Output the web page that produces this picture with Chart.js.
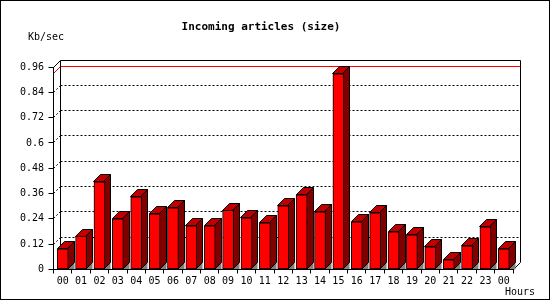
<!DOCTYPE html>
<html>
<head>
<meta charset="utf-8">
<script src="https://cdn.jsdelivr.net/npm/chart.js@4.4.1/dist/chart.umd.min.js"></script>
<style>
  html, body { margin: 0; padding: 0; background: #ffffff; }
  canvas { display: block; }
</style>
</head>
<body>
<canvas id="chart" width="550" height="300"></canvas>
<script>
// ---- data ----
const hourLabels = ['00','01','02','03','04','05','06','07','08','09','10','11',
                    '12','13','14','15','16','17','18','19','20','21','22','23','00'];
const sizeKbSec = [0.098, 0.158, 0.416, 0.240, 0.345, 0.264, 0.292, 0.207, 0.207, 0.280,
                   0.245, 0.221, 0.302, 0.354, 0.273, 0.928, 0.226, 0.269, 0.179, 0.164,
                   0.107, 0.046, 0.112, 0.202, 0.098];
const yTickValues = [0, 0.12, 0.24, 0.36, 0.48, 0.6, 0.72, 0.84, 0.96];
const yTickLabels = ['0', '0.12', '0.24', '0.36', '0.48', '0.6', '0.72', '0.84', '0.96'];
const chartTitle = 'Incoming articles (size)';
const yUnitLabel = 'Kb/sec';
const xUnitLabel = 'Hours';

// ---- styling ----
const DEPTH = 7;
const MONO = '"DejaVu Sans Mono", "Liberation Mono", monospace';
const FRONT = '#ff0000', SIDE = '#800000', TOP = '#c00000', FLOOR = '#808080';

function px(v) { return Math.round(v - 0.5) + 0.5; }

const threeD = {
  id: 'threeD',
  beforeDraw(chart) {
    const ctx = chart.ctx;
    ctx.save();
    ctx.fillStyle = '#ffffff';
    ctx.fillRect(0, 0, chart.width, chart.height);
    ctx.restore();
  },
  beforeDatasetsDraw(chart) {
    const { ctx, chartArea: a, scales: { y } } = chart;
    const L = px(a.left), R = px(a.right), T = px(a.top), B = px(a.bottom);
    ctx.save();
    ctx.lineWidth = 1;
    // dotted grid lines on the back wall and left side wall
    ctx.strokeStyle = '#000000';
    ctx.setLineDash([2, 2]);
    yTickValues.forEach(v => {
      if (v === yTickValues[0] || v === yTickValues[yTickValues.length - 1]) return;
      const yf = px(y.getPixelForValue(v));
      const yb = yf - DEPTH;
      ctx.beginPath();
      ctx.moveTo(L + DEPTH, yb);
      ctx.lineTo(R + DEPTH, yb);
      ctx.stroke();
      ctx.beginPath();
      ctx.moveTo(L, yf);
      ctx.lineTo(L + DEPTH, yb);
      ctx.stroke();
    });
    ctx.setLineDash([]);
    // maximum value line (red)
    const maxV = Math.max(...sizeKbSec);
    const ym = px(y.getPixelForValue(maxV));
    ctx.strokeStyle = '#ff0000';
    ctx.beginPath();
    ctx.moveTo(L, ym);
    ctx.lineTo(L + DEPTH, ym - DEPTH);
    ctx.lineTo(R + DEPTH, ym - DEPTH);
    ctx.stroke();
    // back wall frame
    ctx.strokeStyle = '#000000';
    ctx.beginPath();
    ctx.moveTo(L, T);
    ctx.lineTo(L + DEPTH, T - DEPTH);
    ctx.lineTo(R + DEPTH, T - DEPTH);
    ctx.lineTo(R + DEPTH, B - DEPTH);
    ctx.lineTo(R, B);
    ctx.moveTo(L + DEPTH, T - DEPTH);
    ctx.lineTo(L + DEPTH, B - DEPTH);
    ctx.stroke();

    // 3D faces of the bars (side, top, floor shadow)
    const meta = chart.getDatasetMeta(0);
    meta.data.forEach(el => {
      const p = el.getProps(['x', 'y', 'base', 'width'], true);
      const xl = px(p.x - p.width / 2), xr = px(p.x + p.width / 2) - 1;
      const yt = px(p.y), yb = px(p.base);
      // floor shadow
      ctx.fillStyle = FLOOR;
      ctx.beginPath();
      ctx.moveTo(xr, yb);
      ctx.lineTo(xr + DEPTH, yb - DEPTH);
      ctx.lineTo(xr + DEPTH, yb);
      ctx.closePath();
      ctx.fill();
      // side
      ctx.fillStyle = SIDE;
      ctx.beginPath();
      ctx.moveTo(xr, yt);
      ctx.lineTo(xr + DEPTH, yt - DEPTH);
      ctx.lineTo(xr + DEPTH, yb - DEPTH);
      ctx.lineTo(xr, yb);
      ctx.closePath();
      ctx.fill();
      ctx.stroke();
      // top
      ctx.fillStyle = TOP;
      ctx.beginPath();
      ctx.moveTo(xl, yt);
      ctx.lineTo(xl + DEPTH, yt - DEPTH);
      ctx.lineTo(xr + DEPTH, yt - DEPTH);
      ctx.lineTo(xr, yt);
      ctx.closePath();
      ctx.fill();
      ctx.stroke();
    });
    ctx.restore();
  },
  afterDraw(chart) {
    const ctx = chart.ctx;
    ctx.save();
    ctx.fillStyle = '#000000';
    ctx.textBaseline = 'middle';
    ctx.font = 'bold 11px ' + MONO;
    ctx.textAlign = 'center';
    ctx.fillText(chartTitle, 261, 27);
    ctx.font = '10px ' + MONO;
    ctx.textAlign = 'left';
    ctx.fillText(yUnitLabel, 28, 37);
    ctx.textAlign = 'right';
    ctx.fillText(xUnitLabel, 535, 292);
    // outer frame of the image
    ctx.strokeStyle = '#000000';
    ctx.lineWidth = 1;
    ctx.strokeRect(0.5, 0.5, chart.width - 1, chart.height - 1);
    ctx.restore();
  }
};

new Chart(document.getElementById('chart'), {
  type: 'bar',
  data: {
    labels: hourLabels,
    datasets: [{
      data: sizeKbSec,
      backgroundColor: FRONT,
      borderColor: '#000000',
      borderWidth: 1,
      borderSkipped: false,
      barThickness: 11
    }]
  },
  plugins: [threeD],
  options: {
    responsive: false,
    animation: false,
    devicePixelRatio: 1,
    layout: { padding: { top: 67, right: 37, bottom: 0, left: 0 } },
    plugins: {
      legend: { display: false },
      title: { display: false },
      tooltip: { enabled: false }
    },
    scales: {
      x: {
        offset: true,
        afterFit(scale) { scale.height = 30.5; },
        grid: { display: true, drawOnChartArea: false, drawTicks: true, tickLength: 4, color: '#000000', offset: true },
        border: { display: true, color: '#000000', width: 1, z: 1 },
        ticks: { autoSkip: false, maxRotation: 0, minRotation: 0, padding: 1.5,
                 color: '#000000', font: { family: MONO, size: 10 } }
      },
      y: {
        min: 0,
        max: 0.96,
        afterFit(scale) { scale.width = 53.5; },
        afterBuildTicks(scale) { scale.ticks = yTickValues.map(v => ({ value: v })); },
        grid: { display: true, drawOnChartArea: false, drawTicks: true, tickLength: 5, color: '#000000' },
        border: { display: true, color: '#000000', width: 1, z: 1 },
        ticks: {
          padding: 4.5,
          color: '#000000',
          font: { family: MONO, size: 10 },
          callback(value, index) { return yTickLabels[index]; }
        }
      }
    }
  }
});
</script>
</body>
</html>
